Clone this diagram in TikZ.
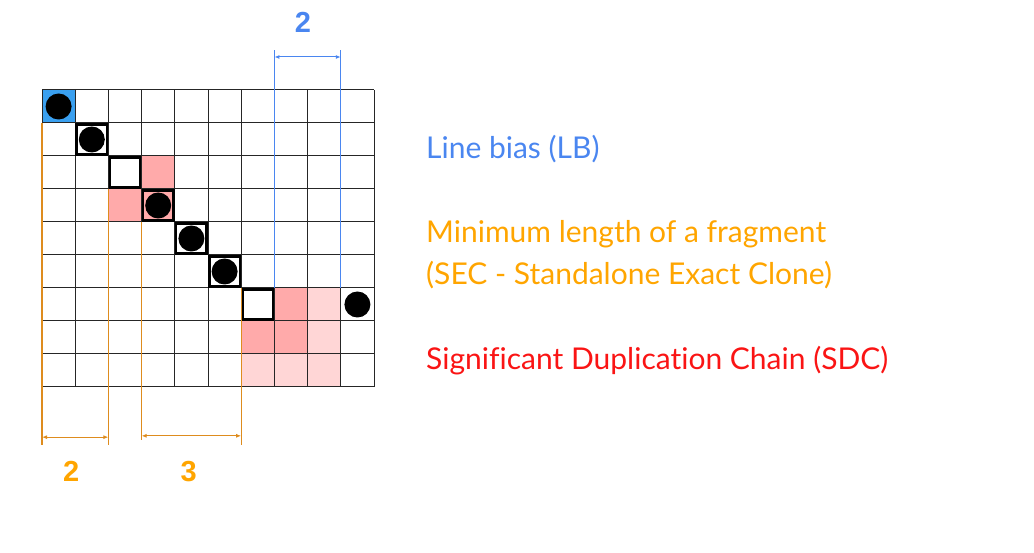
\documentclass[tikz,border=0pt]{standalone}
\usepackage{fontspec}
\setmainfont{Lato}[RawFeature=-liga]
\newfontfamily\numfont{Liberation Sans}
\usetikzlibrary{arrows.meta}

\definecolor{lbblue}{RGB}{74,134,240}
\definecolor{secorange}{RGB}{255,165,0}
\definecolor{dimorange}{RGB}{222,140,30}
\definecolor{sdcred}{RGB}{250,20,20}
\definecolor{cellblue}{RGB}{58,160,240}
\definecolor{pinkdark}{RGB}{255,170,170}
\definecolor{pinklight}{RGB}{255,214,214}

\tikzset{
  dot/.style={circle,fill=black,inner sep=0pt,minimum size=26pt},
  chainbox/.style={draw=black,line width=2.4pt},
  dimline/.style={line width=1pt,{Latex[length=5pt,width=4pt]}-{Latex[length=5pt,width=4pt]}},
  caption/.style={anchor=base west,inner sep=0pt,font=\fontsize{30}{36}\selectfont},
  dimlabel/.style={font=\numfont\bfseries\fontsize{29}{34}\selectfont}
}

\begin{document}
\begin{tikzpicture}[x=1pt,y=-1pt]
\useasboundingbox (0,0) rectangle (1034,553);

\begin{scope}[shift={(42,90)},x=33.2pt,y=-33pt]
   % filled cells
   \fill[cellblue] (0,0) rectangle ++(1,1);
   \foreach \c/\r in {3/2,2/3,3/3,7/6,6/7,7/7}
      \fill[pinkdark] (\c,\r) rectangle ++(1,1);
   \foreach \c/\r in {8/6,8/7,6/8,7/8,8/8}
      \fill[pinklight] (\c,\r) rectangle ++(1,1);

   % grid
   \foreach \c in {0,...,10}
      \draw[line width=1pt,black!85] (\c,0) -- (\c,9);
   \foreach \r in {0,...,9}
      \draw[line width=1pt,black!85] (0,\r) -- (10,\r);

   % diagonal boxes
   \foreach \i in {1,...,6}
      \draw[chainbox] (\i+0.04,\i+0.04) rectangle (\i+0.96,\i+0.96);

   % dots
   \node[dot] at (0.5,0.5) (d0) {};
   \node[dot] at (1.5,1.5) (d1) {};
   \node[dot] at (3.5,3.5) (d3) {};
   \node[dot] at (4.5,4.5) (d4) {};
   \node[dot] at (5.5,5.5) (d5) {};
   \node[dot] at (9.5,6.5) (d9) {};

   % orange extension lines
   \coordinate (o1t) at (0,1);   \coordinate (o1b) at (0,10.75);
   \coordinate (o2t) at (2,3);   \coordinate (o2b) at (2,10.75);
   \coordinate (o3t) at (3,4);   \coordinate (o3b) at (3,10.6);
   \coordinate (o4t) at (6,6);   \coordinate (o4b) at (6,10.75);
   \draw[dimorange,line width=1.2pt] (o1t) -- (o1b);
   \draw[dimorange,line width=1.2pt] (o2t) -- (o2b);
   \draw[dimorange,line width=1.2pt] (o3t) -- (o3b);
   \draw[dimorange,line width=1.2pt] (o4t) -- (o4b);

   % blue extension lines
   \coordinate (b1t) at (7,-1.2);  \coordinate (b1b) at (7,6);
   \coordinate (b2t) at (9,-1.2);  \coordinate (b2b) at (9,6);
   \draw[lbblue,line width=1.2pt] (b1t) -- (b1b);
   \draw[lbblue,line width=1.2pt] (b2t) -- (b2b);

   % dimension arrows
   \coordinate (a1l) at (0,10.52);  \coordinate (a1r) at (2,10.52);
   \coordinate (a2l) at (3,10.48);  \coordinate (a2r) at (6,10.48);
   \coordinate (a3l) at (7,-1.0);   \coordinate (a3r) at (9,-1.0);
   \draw[dimline,dimorange] (a1l) -- (a1r);
   \draw[dimline,dimorange] (a2l) -- (a2r);
   \draw[dimline,lbblue] (a3l) -- (a3r);

   \node[dimlabel,secorange] at (0.88,11.55) (n2) {2};
   \node[dimlabel,secorange] at (4.42,11.55) (n3) {3};
   \node[dimlabel,lbblue] at (7.86,-2.05) (nlb) {2};
\end{scope}

% captions
\node[caption,lbblue] at (426,159) (lb) {Line bias (LB)};
\node[caption,secorange] at (426,243) (sec1) {Minimum length of a fragment};
\node[caption,secorange] at (426,285) (sec2) {(SEC - Standalone Exact Clone)};
\node[caption,sdcred] at (426,370) (sdc) {Significant Duplication Chain (SDC)};

\end{tikzpicture}
\end{document}
